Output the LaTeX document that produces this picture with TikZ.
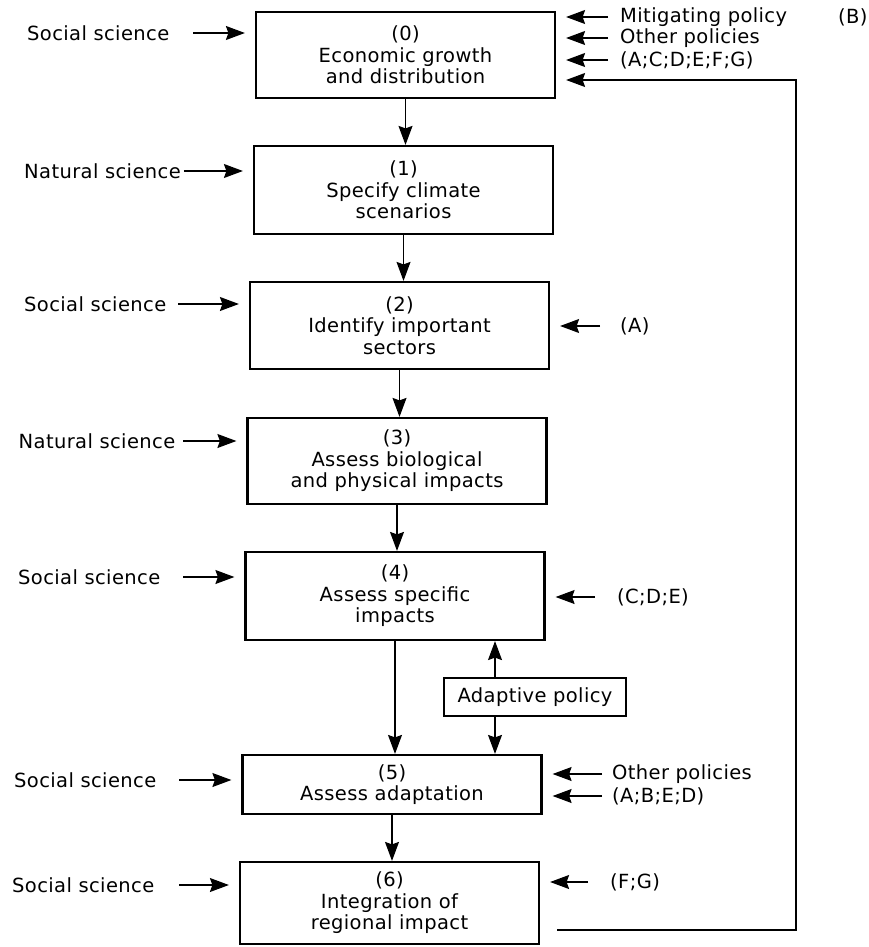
\documentclass[tikz,border=0pt]{standalone}
\usepackage{fontspec}
\setmainfont[LetterSpace=2]{DejaVu Sans}
\usetikzlibrary{arrows.meta,positioning}
\tikzset{>={Stealth[length=19pt,width=14pt,inset=2.5pt]}}

\begin{document}
\begin{tikzpicture}[x=1pt,y=-1pt,font=\fontsize{19.5}{21.5}\selectfont,
  stage/.style={draw,line width=2.2pt,minimum width=299pt,align=center,inner sep=0pt},
  flow/.style={->,line width=1.2pt},
  lbl/.style={anchor=west,inner sep=0pt}]
\useasboundingbox (0,0) rectangle (869,947);
% the seven stages
\node[stage,minimum height=86pt] (s0) at (405.5,55) {(0)\\Economic growth\\and distribution};
\node[stage,minimum height=88pt] (s1) at (403.5,190) {(1)\\Specify climate\\scenarios};
\node[stage,minimum height=87pt] (s2) at (399.5,325.5) {(2)\\Identify important\\sectors};
\node[stage,minimum height=86pt] (s3) at (397,461) {(3)\\Assess biological\\and physical impacts};
\node[stage,minimum height=88pt] (s4) at (395,596) {(4)\\Assess specific\\impacts};
\node[stage,minimum height=59pt] (s5) at (392,784.5) {(5)\\Assess adaptation};
\node[stage,minimum height=82pt] (s6) at (389.5,903) {(6)\\Integration of\\regional impact};
\node[stage,minimum width=182pt,minimum height=38pt] (adapt) at (535,697) {Adaptive policy};
\foreach \a/\b in {0/1,1/2,2/3,3/4,4/5,5/6}{
\draw[flow] (s\a.south) -- (s\a.south |- s\b.north);
};
\draw[flow] ([xshift=-40pt]adapt.north) -- ([xshift=-40pt]adapt.north |- s4.south);
\draw[flow] ([xshift=-40pt]adapt.south) -- ([xshift=-40pt]adapt.south |- s5.north);
% sciences on the left
\foreach \n/\txt/\x/\y/\g in {0/Social science/27/33/24,1/Natural science/24/171/3,
  2/Social science/24/304/12,3/Natural science/18.5/441/8,4/Social science/18/577/23,
  5/Social science/14/780/23,6/Social science/12/885/25}{
\node[lbl] (sci\n) at (\x,\y) {\txt};
\draw[flow,shorten <=\g pt,shorten >=10pt] (sci\n.east) -- (sci\n.east -| s\n.west);
};
% policies on the right
\node[lbl] (mit) at (620,17) {Mitigating policy};
\node[lbl] (mitB) at (838,17) {(B)};
\node[lbl] (oth0) at (620,38) {Other policies};
\node[lbl] (set0) at (620,60) {(A;C;D;E;F;G)};
\node[lbl] (set2) at (620,326) {(A)};
\node[lbl] (set4) at (617,597) {(C;D;E)};
\node[lbl] (oth5) at (612,774) {Other policies};
\node[lbl] (set5) at (612,796) {(A;B;E;D)};
\node[lbl] (set6) at (610,882) {(F;G)};
\foreach \p/\s/\g in {mit/0/12,oth0/0/12,set0/0/12,set2/2/20,set4/4/22,oth5/5/10,set5/5/10,set6/6/22}{
\draw[flow,shorten <=\g pt,shorten >=10pt] (\p.west) -- (\p.west -| s\s.east);
};
% feedback from (6) to (0)
\coordinate (loop) at (796,930);
\draw[flow,shorten <=17pt,shorten >=10pt] ([yshift=-27pt]s6.east) -- (loop) |- ([yshift=-25pt]s0.east);
\end{tikzpicture}
\end{document}
